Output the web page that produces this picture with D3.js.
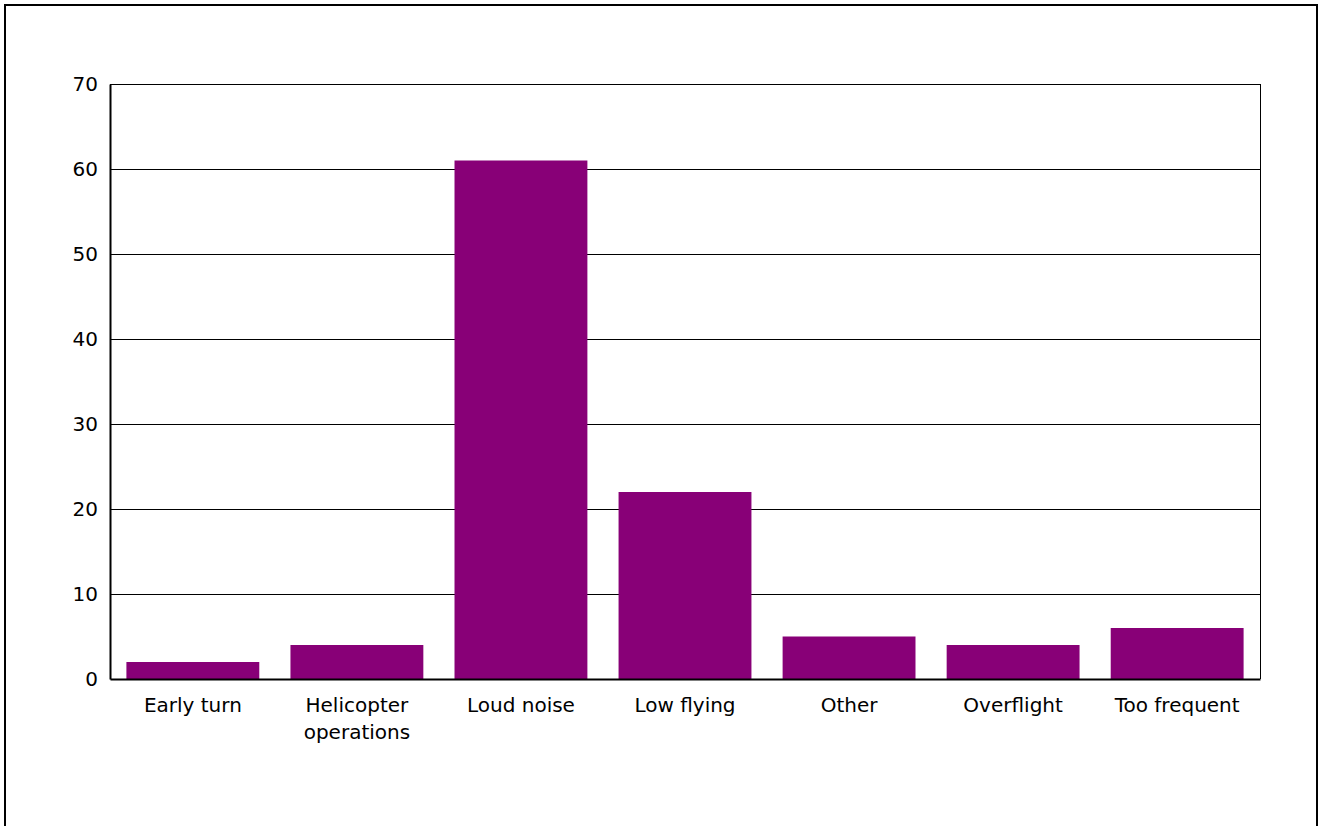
<!DOCTYPE html>
<html>
<head>
<meta charset="utf-8">
<script src="https://cdn.jsdelivr.net/npm/d3@7"></script>
<style>
  body { margin: 0; background: #fff; }
  text { font-family: "DejaVu Sans", sans-serif; }
</style>
</head>
<body>
<div id="vis"></div>
<script>
// complaint categories and counts
const categories = ['Early turn', 'Helicopter operations', 'Loud noise', 'Low flying', 'Other', 'Overflight', 'Too frequent'];
const counts = [2, 4, 61, 22, 5, 4, 6];
const yTicks = [0, 10, 20, 30, 40, 50, 60, 70];

const W = 1318, H = 826;
const margin = {top: 84, right: 58, bottom: 147, left: 110};
const width = W - margin.left - margin.right;
const height = H - margin.top - margin.bottom;

const root = d3.select('#vis').append('svg')
    .attr('width', W)
    .attr('height', H);

// outer frame
root.append('rect')
    .attr('x', 5).attr('y', 5)
    .attr('width', W - 6).attr('height', H + 10)
    .attr('fill', 'none')
    .attr('stroke', '#000')
    .attr('stroke-width', 2);

const svg = root.append('g')
    .attr('transform', `translate(${margin.left},${margin.top})`);

const xScale = d3.scaleBand()
    .domain(categories)
    .range([0, width])
    .paddingInner(0.19)
    .paddingOuter(0.1);

const yScale = d3.scaleLinear()
    .domain([0, 70])
    .range([height, 0]);

// gridlines
svg.selectAll('.grid')
    .data(yTicks.filter(d => d > 0))
    .enter()
    .append('line')
    .attr('class', 'grid')
    .attr('x1', 0).attr('x2', width)
    .attr('y1', d => Math.round(yScale(d)) + 0.5)
    .attr('y2', d => Math.round(yScale(d)) + 0.5)
    .attr('stroke', '#000')
    .attr('stroke-width', 1);

// right border of plot
svg.append('line')
    .attr('x1', width + 0.5).attr('x2', width + 0.5)
    .attr('y1', 0).attr('y2', height)
    .attr('stroke', '#000');

// bars
svg.selectAll('.bar')
    .data(categories)
    .enter()
    .append('rect')
    .attr('class', 'bar')
    .attr('x', d => xScale(d))
    .attr('width', xScale.bandwidth())
    .attr('y', (d, i) => yScale(counts[i]))
    .attr('height', (d, i) => height - yScale(counts[i]))
    .attr('fill', '#880077');

// y axis
const yAxis = d3.axisLeft(yScale).tickValues(yTicks).tickSize(0).tickPadding(12);
const gy = svg.append('g').call(yAxis);
gy.select('.domain').attr('stroke', '#000').attr('stroke-width', 2);
gy.selectAll('text').style('font-size', '20px').attr('fill', '#000');

// x axis
const xAxis = d3.axisBottom(xScale).tickSize(0).tickPadding(0);
const gx = svg.append('g')
    .attr('transform', `translate(0,${height})`)
    .call(xAxis);
gx.select('.domain').attr('stroke', '#000').attr('stroke-width', 2);
gx.selectAll('text').remove();

// x labels, wrapped at 'Helicopter operations'
const labelLines = {'Helicopter operations': ['Helicopter', 'operations']};
gx.selectAll('.tick').each(function(d) {
    const lines = labelLines[d] || [d];
    const t = d3.select(this).append('text')
        .attr('text-anchor', 'middle')
        .attr('fill', '#000')
        .style('font-size', '20px');
    lines.forEach((ln, i) => {
        t.append('tspan').attr('x', 0).attr('y', 33 + i * 27).text(ln);
    });
});
</script>
</body>
</html>
